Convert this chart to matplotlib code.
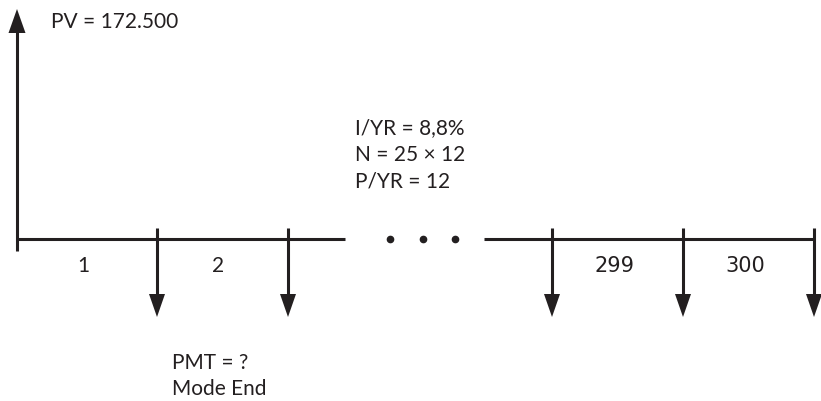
import matplotlib.pyplot as plt
from matplotlib.patches import Polygon

# Cash flow data
pv_label = "PV = 172.500"
param_lines = ["I/YR = 8,8%", "N = 25 × 12", "P/YR = 12"]
pmt_lines = ["PMT = ?", "Mode End"]
left_periods = ["1", "2"]
right_periods = ["299", "300"]

INK = "#231f20"
LW = 2.2
FONT = "Lato"

fig = plt.figure(figsize=(8.21, 4.02), dpi=100)
ax = fig.add_axes([0, 0, 1, 1])
# work in pixel units, y pointing down
ax.set_xlim(0, 821)
ax.set_ylim(402, 0)
ax.axis("off")

axis_y = 240
origin_x = 17
first_w = 140
period_w = 131


def down_arrow(x):
    ax.plot([x, x], [229, 298], color=INK, lw=LW, solid_capstyle="butt")
    ax.add_patch(Polygon([(x - 8, 295), (x + 8, 295), (x, 318)], closed=True, color=INK, lw=0))


# PV arrow (up) at time 0
ax.plot([origin_x, origin_x], [30, 252], color=INK, lw=LW, solid_capstyle="butt")
ax.add_patch(Polygon([(origin_x - 8.5, 34), (origin_x + 8.5, 34), (origin_x, 10)], closed=True, color=INK, lw=0))
ax.text(origin_x + 34, 22, pv_label, fontsize=15, family=FONT, color=INK, va="center", ha="left")

# left part of the time line
left_ticks = [origin_x + first_w + i * period_w for i in range(len(left_periods))]
ax.plot([origin_x, 345], [axis_y, axis_y], color=INK, lw=LW, solid_capstyle="butt")
prev = origin_x
for lab, x in zip(left_periods, left_ticks):
    down_arrow(x)
    ax.text((prev + x) / 2 - 4, 266, lab, fontsize=15, family=FONT, color=INK, ha="center", va="center")
    prev = x

# dots
for x in [390, 423, 455]:
    ax.plot(x, axis_y, "o", color=INK, ms=4.5)

# right part of the time line
right_end = 814
right_ticks = [right_end - (len(right_periods) - i) * period_w for i in range(len(right_periods) + 1)]
ax.plot([484, right_end], [axis_y, axis_y], color=INK, lw=LW, solid_capstyle="butt")
for x in right_ticks:
    down_arrow(x)
for i, lab in enumerate(right_periods):
    xc = (right_ticks[i] + right_ticks[i + 1]) / 2
    ax.text(xc - 3, 266, lab, fontsize=15, family="DejaVu Sans", color=INK, ha="center", va="center")

# parameters
for i, line in enumerate(param_lines):
    ax.text(355, 128 + i * 27, line, fontsize=15, family=FONT, color=INK, ha="left", va="center")

for i, line in enumerate(pmt_lines):
    ax.text(172, 363 + i * 26, line, fontsize=15, family=FONT, color=INK, ha="left", va="center")

fig.savefig("out.png", dpi=100)
